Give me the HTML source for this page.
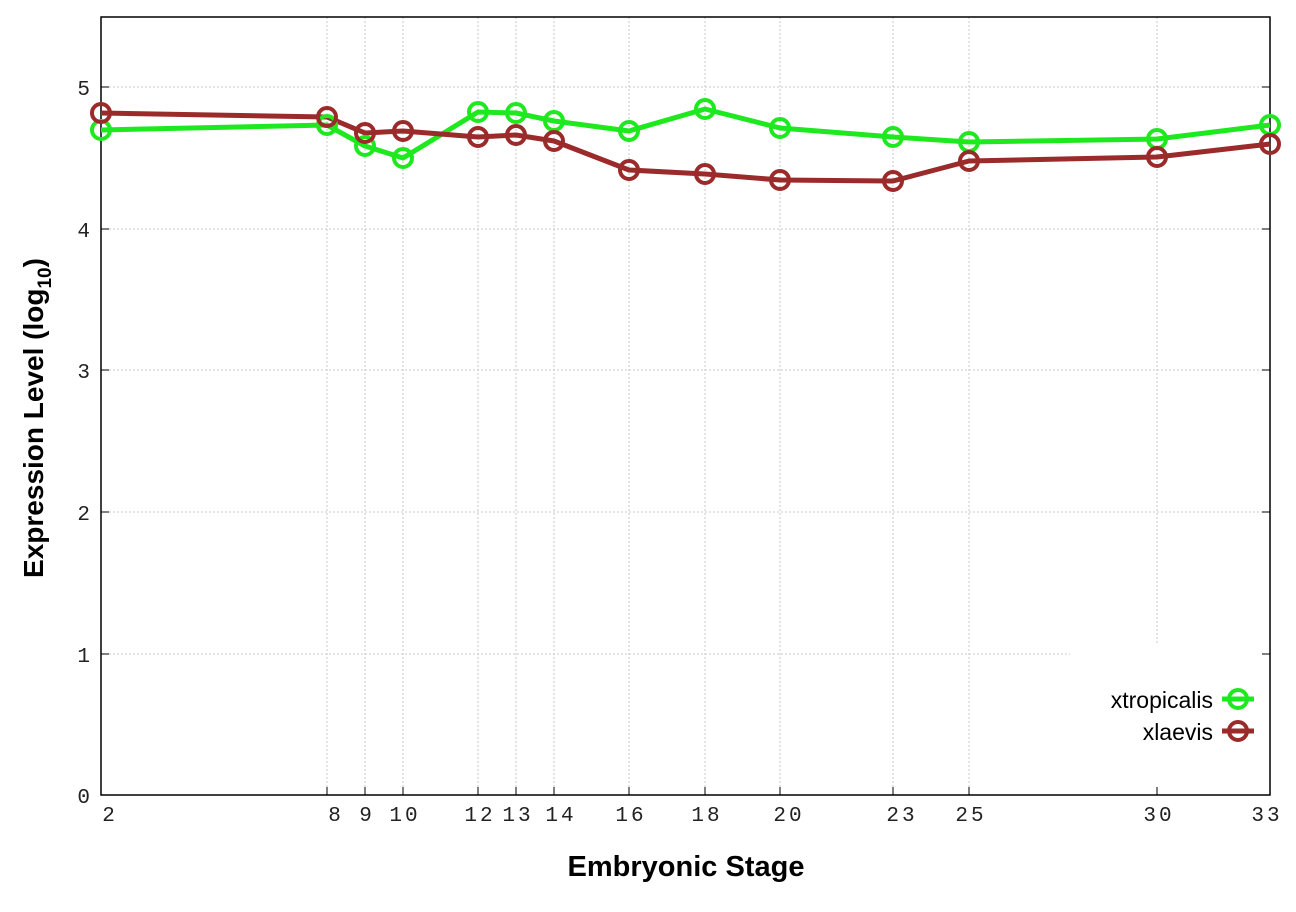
<!DOCTYPE html>
<html><head><meta charset="utf-8"><style>body{margin:0;background:#fff}</style></head><body>
<svg width="1296" height="907" xmlns="http://www.w3.org/2000/svg">
<rect width="1296" height="907" fill="#fff"/>
<g stroke="#c8c8c8" stroke-width="1" stroke-dasharray="2,2">
<line x1="101" x2="1270" y1="87" y2="87"/><line x1="101" x2="1270" y1="229" y2="229"/>
<line x1="101" x2="1270" y1="370" y2="370"/><line x1="101" x2="1270" y1="512" y2="512"/>
<line x1="101" x2="1070" y1="654" y2="654"/>
<line x1="327" x2="327" y1="17" y2="795"/><line x1="365" x2="365" y1="17" y2="795"/>
<line x1="403" x2="403" y1="17" y2="795"/><line x1="478" x2="478" y1="17" y2="795"/>
<line x1="516" x2="516" y1="17" y2="795"/><line x1="554" x2="554" y1="17" y2="795"/>
<line x1="629" x2="629" y1="17" y2="795"/><line x1="705" x2="705" y1="17" y2="795"/>
<line x1="780" x2="780" y1="17" y2="795"/><line x1="893" x2="893" y1="17" y2="795"/>
<line x1="969" x2="969" y1="17" y2="795"/><line x1="1157" x2="1157" y1="17" y2="643"/>
</g>
<rect x="101" y="17" width="1169" height="778" fill="none" stroke="#000" stroke-width="1.5"/>
<g stroke="#000" stroke-width="1">
<line x1="101" x2="109" y1="87" y2="87"/><line x1="1262" x2="1270" y1="87" y2="87"/>
<line x1="101" x2="109" y1="229" y2="229"/><line x1="1262" x2="1270" y1="229" y2="229"/>
<line x1="101" x2="109" y1="370" y2="370"/><line x1="1262" x2="1270" y1="370" y2="370"/>
<line x1="101" x2="109" y1="512" y2="512"/><line x1="1262" x2="1270" y1="512" y2="512"/>
<line x1="101" x2="109" y1="654" y2="654"/><line x1="1262" x2="1270" y1="654" y2="654"/>
<line x1="327" x2="327" y1="787" y2="795"/><line x1="365" x2="365" y1="787" y2="795"/><line x1="403" x2="403" y1="787" y2="795"/><line x1="478" x2="478" y1="787" y2="795"/><line x1="516" x2="516" y1="787" y2="795"/><line x1="554" x2="554" y1="787" y2="795"/><line x1="629" x2="629" y1="787" y2="795"/><line x1="705" x2="705" y1="787" y2="795"/><line x1="780" x2="780" y1="787" y2="795"/><line x1="893" x2="893" y1="787" y2="795"/><line x1="969" x2="969" y1="787" y2="795"/><line x1="1157" x2="1157" y1="787" y2="795"/>
</g>
<g font-family="Liberation Mono, monospace" font-size="21" fill="#222" text-anchor="end">
<text x="90" y="803">0</text><text x="90" y="662">1</text><text x="90" y="520">2</text><text x="90" y="378">3</text><text x="90" y="237">4</text><text x="90" y="95">5</text>
</g>
<g font-family="Liberation Mono, monospace" font-size="21" fill="#222" text-anchor="middle" letter-spacing="3">
<text x="110" y="821">2</text><text x="336" y="821">8</text><text x="367" y="821">9</text><text x="405" y="821">10</text><text x="480" y="821">12</text><text x="518" y="821">13</text><text x="561" y="821">14</text><text x="631" y="821">16</text><text x="707" y="821">18</text><text x="789" y="821">20</text><text x="902" y="821">23</text><text x="971" y="821">25</text><text x="1159" y="821">30</text><text x="1267" y="821">33</text>
</g>
<text x="686" y="876" font-family="Liberation Sans, sans-serif" font-weight="bold" font-size="29" text-anchor="middle">Embryonic Stage</text>
<text transform="translate(43,418) rotate(-90)" font-family="Liberation Sans, sans-serif" font-weight="bold" font-size="28" text-anchor="middle">Expression Level (log<tspan font-size="19" dy="8">10</tspan><tspan dy="-8">)</tspan></text>
<g fill="none" stroke-width="5" stroke-linejoin="round">
<polyline stroke="#1ee81e" points="101,130 327,125 365,146 403,158 478,112 516,113 554,121 629,131 705,109 780,128 893,137 969,142 1157,139 1270,125"/>
<polyline stroke="#9b2a2a" points="101,113 327,117 365,133 403,131 478,137 516,135 554,141 629,170 705,174 780,180 893,181 969,161 1157,157 1270,144"/>
</g>
<g fill="none" stroke-width="4" stroke="#1ee81e">
<circle cx="101" cy="130" r="9"/><circle cx="327" cy="125" r="9"/><circle cx="365" cy="146" r="9"/><circle cx="403" cy="158" r="9"/><circle cx="478" cy="112" r="9"/><circle cx="516" cy="113" r="9"/><circle cx="554" cy="121" r="9"/><circle cx="629" cy="131" r="9"/><circle cx="705" cy="109" r="9"/><circle cx="780" cy="128" r="9"/><circle cx="893" cy="137" r="9"/><circle cx="969" cy="142" r="9"/><circle cx="1157" cy="139" r="9"/><circle cx="1270" cy="125" r="9"/>
</g>
<g fill="none" stroke-width="4" stroke="#9b2a2a">
<circle cx="101" cy="113" r="9"/><circle cx="327" cy="117" r="9"/><circle cx="365" cy="133" r="9"/><circle cx="403" cy="131" r="9"/><circle cx="478" cy="137" r="9"/><circle cx="516" cy="135" r="9"/><circle cx="554" cy="141" r="9"/><circle cx="629" cy="170" r="9"/><circle cx="705" cy="174" r="9"/><circle cx="780" cy="180" r="9"/><circle cx="893" cy="181" r="9"/><circle cx="969" cy="161" r="9"/><circle cx="1157" cy="157" r="9"/><circle cx="1270" cy="144" r="9"/>
</g>
<g font-family="Liberation Sans, sans-serif" font-size="23" text-anchor="end" fill="#000">
<text x="1213" y="708">xtropicalis</text><text x="1213" y="740">xlaevis</text>
</g>
<line x1="1222" x2="1254" y1="699" y2="699" stroke="#1ee81e" stroke-width="5"/>
<circle cx="1238" cy="699" r="9" fill="none" stroke="#1ee81e" stroke-width="4"/>
<line x1="1222" x2="1254" y1="731" y2="731" stroke="#9b2a2a" stroke-width="5"/>
<circle cx="1238" cy="731" r="9" fill="none" stroke="#9b2a2a" stroke-width="4"/>
</svg>
</body></html>
